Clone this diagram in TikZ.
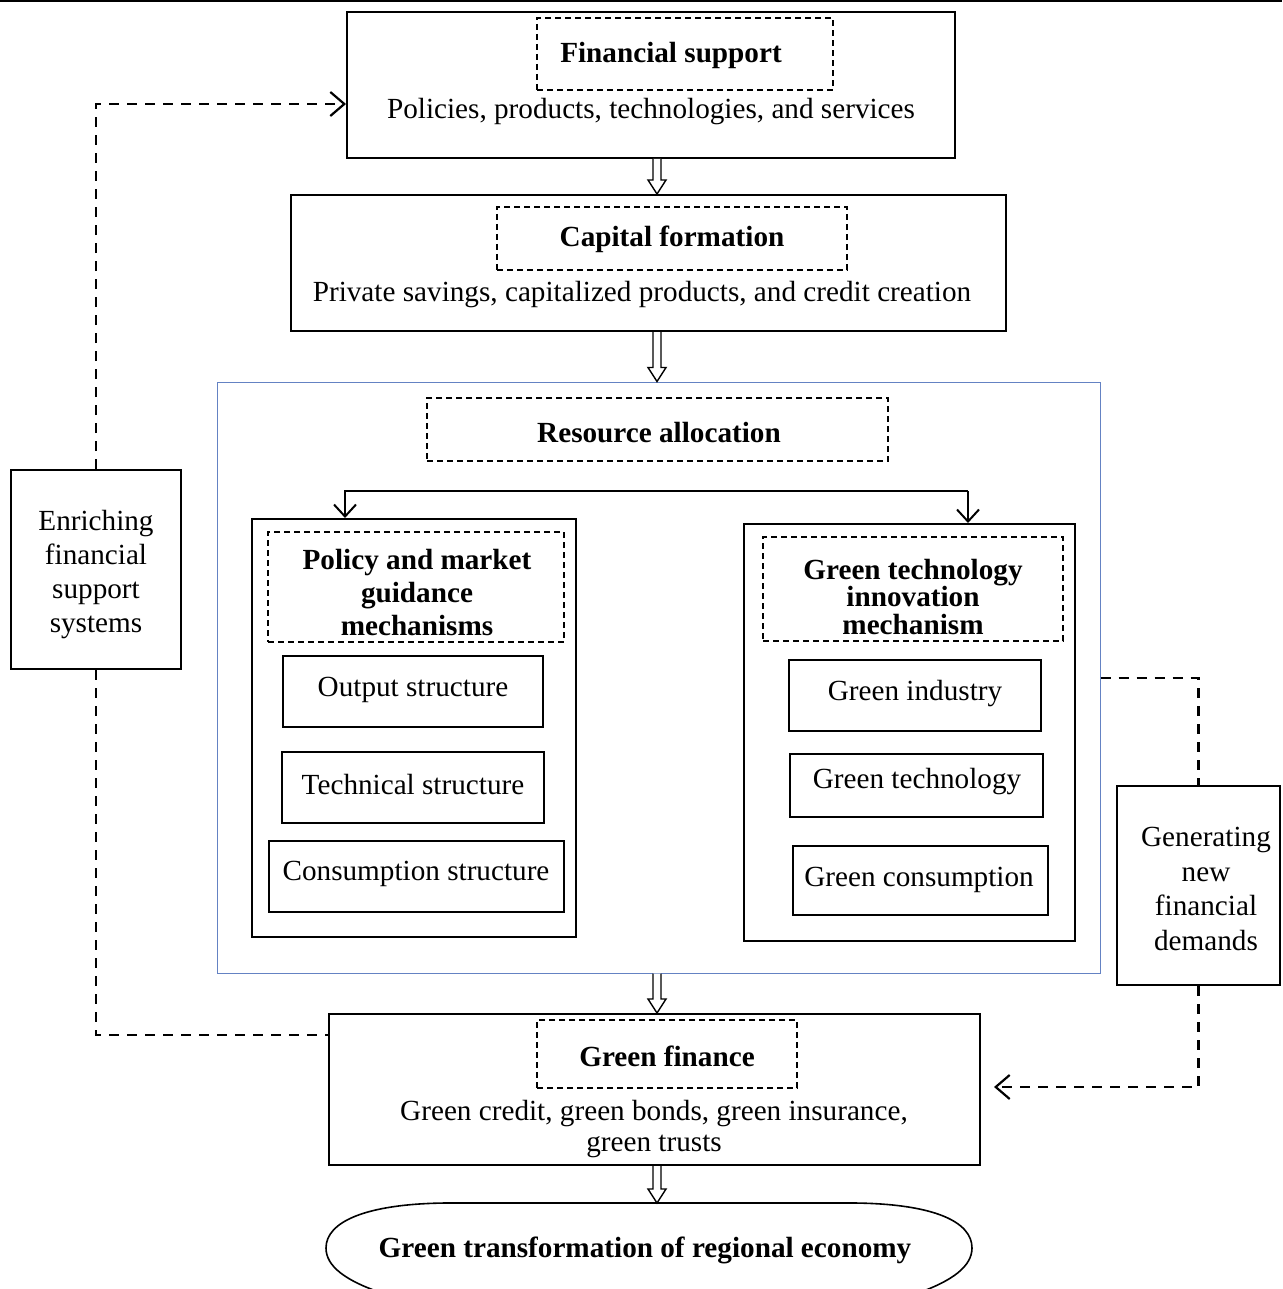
\documentclass[tikz,border=0pt]{standalone}
\usepackage{fontspec}
\setmainfont{Liberation Serif}
\usetikzlibrary{arrows.meta,fit,shapes.geometric}
\definecolor{frameblue}{RGB}{100,130,195}
\newcommand\hollowarrow[2]{%
  \draw[line width=0.7pt, fill=white, line join=miter]
    ([xshift=-2pt]#1) -- ([xshift=-2pt,yshift=7pt]#2) -- ([xshift=-4.5pt,yshift=7pt]#2)
    -- (#2) -- ([xshift=4.5pt,yshift=7pt]#2) -- ([xshift=2pt,yshift=7pt]#2) -- ([xshift=2pt]#1);}
\begin{document}
\begin{tikzpicture}[x=0.5pt,y=-0.5pt,
  box/.style={draw, line width=1pt, inner sep=0pt},
  dbox/.style={draw, line width=0.7pt, dash pattern=on 3pt off 2pt, inner sep=0pt},
  txt/.style={font=\fontsize{14.6}{17}\selectfont, inner sep=0pt, align=center, yshift=-1.75pt},
  btxt/.style={font=\fontsize{14.6}{17}\selectfont\bfseries, inner sep=0pt, align=center, yshift=-1.75pt},
  fd/.style={draw, line width=1.1pt, dash pattern=on 5pt off 4pt},
  fb/.style={fd, -{Straight Barb[length=7pt,width=12pt,line width=1.1pt]}},
  br/.style={draw, line width=1pt, -{Straight Barb[length=6pt,width=11pt,line width=1pt]}}
]
\useasboundingbox (0,0) rectangle (1282,1289);
\clip (0,0) rectangle (1282,1289);
\draw[line width=1pt] (0,1.5) -- (1282,1.5);

% Financial support
\node[box, fit={(347,12) (955,158)}] (fs) {};
\node[dbox, fit={(537,18) (833,90)}] (fsd) {};
\node[btxt] (fst) at (671,52) {Financial support};
\node[txt] (fsp) at (651,108) {Policies, products, technologies, and services};

% Capital formation
\node[box, fit={(291,195) (1006,331)}] (cf) {};
\node[dbox, fit={(497,207) (847,270)}] (cfd) {};
\node[btxt] (cft) at (672,236) {Capital formation};
\node[txt] (cfp) at (642,291) {Private savings, capitalized products, and credit creation};

% Resource allocation frame
\node[draw=frameblue, line width=0.5pt, inner sep=0pt, fit={(217,382) (1100,973)}] (ra) {};
\node[dbox, fit={(427,398) (888,461)}] (rad) {};
\node[btxt] (rat) at (659,429) {Resource allocation};

% Left mechanism
\node[box, fit={(252,519) (576,937)}] (lb) {};
\node[dbox, fit={(268,532) (564,642)}] (lbd) {};
\node[btxt, font=\fontsize{14.6}{16.5}\selectfont\bfseries] (lbt) at (417,589) {Policy and market\\guidance\\mechanisms};
\node[box, fit={(283,656) (543,727)}] (l1) {};
\node[txt] (l1t) at (413,686) {Output structure};
\node[box, fit={(282,752) (544,823)}] (l2) {};
\node[txt] (l2t) at (413,781) {Technical structure};
\node[box, fit={(269,841) (564,912)}] (l3) {};
\node[txt] (l3t) at (416,870) {Consumption structure};

% Right mechanism
\node[box, fit={(744,524) (1075,941)}] (rb) {};
\node[dbox, fit={(763,537) (1063,641)}] (rbd) {};
\node[btxt, font=\fontsize{14.6}{13.75}\selectfont\bfseries] (rbt) at (913,593.5) {Green technology\\innovation\\mechanism};
\node[box, fit={(789,660) (1041,731)}] (r1) {};
\node[txt] (r1t) at (915,690) {Green industry};
\node[box, fit={(790,754) (1043,817)}] (r2) {};
\node[txt] (r2t) at (917,778) {Green technology};
\node[box, fit={(793,846) (1048,915)}] (r3) {};
\node[txt] (r3t) at (919,876) {Green consumption};

% branch
\coordinate (bl) at (345,491);
\coordinate (brr) at (968,491);
\draw[br] (brr) -- (bl) -- (bl |- lb.north);
\draw[br] (brr) -- (brr |- rb.north);

% Side boxes
\node[box, fit={(11,470) (181,669)}] (en) {};
\node[txt] (ent) at (96,571) {Enriching\\financial\\support\\systems};
\node[box, fit={(1117,786) (1280,985)}] (gen) {};
\node[txt, font=\fontsize{14.6}{17.2}\selectfont] (gent) at (1206,885.5) {Generating\\new\\financial\\demands};

% Green finance
\node[box, fit={(329,1014) (980,1165)}] (gf) {};
\node[dbox, fit={(537,1020) (797,1088)}] (gfd) {};
\node[btxt] (gft) at (667,1053) {Green finance};
\node[txt, font=\fontsize{14.6}{15.5}\selectfont] (gfp) at (654,1125.5) {Green credit, green bonds, green insurance,\\green trusts};

% Terminal shape (cut off at the bottom of the page)
\draw[line width=0.8pt] (385,1294) .. controls (345,1281) and (326,1266) .. (326,1248)
  .. controls (326,1222) and (365,1204) .. (445,1203) -- (855,1203)
  .. controls (935,1204) and (972,1222) .. (972,1248)
  .. controls (972,1266) and (953,1281) .. (915,1294);
\coordinate (gtop) at (657,1203);
\node[btxt] (gtt) at (645,1247) {Green transformation of regional economy};

% main flow arrows
\coordinate (a1) at (657,0 |- fs.south);
\coordinate (a2) at (657,0 |- cf.north);
\coordinate (a3) at (657,0 |- cf.south);
\coordinate (a4) at (657,0 |- ra.north);
\coordinate (a5) at (657,0 |- ra.south);
\coordinate (a6) at (657,0 |- gf.north);
\coordinate (a7) at (657,0 |- gf.south);
\hollowarrow{a1}{a2}
\hollowarrow{a3}{a4}
\hollowarrow{a5}{a6}
\hollowarrow{a7}{gtop}

% feedback dashed connectors
\coordinate (fsin) at (fs.west |- 0,104);
\draw[fb] (en.north) -- (en.north |- fsin) -- (fsin);
\coordinate (gfl) at (gf.west |- 0,1035);
\draw[fd] (en.south) -- (en.south |- gfl) -- (gfl);
\coordinate (rae) at (ra.east |- 0,678);
\draw[fd] (rae) -| (gen.north);
\coordinate (gfr) at ([xshift=6.5pt]gf.east |- 0,1087);
\draw[fb] (gen.south) |- (gfr);
\end{tikzpicture}
\end{document}
